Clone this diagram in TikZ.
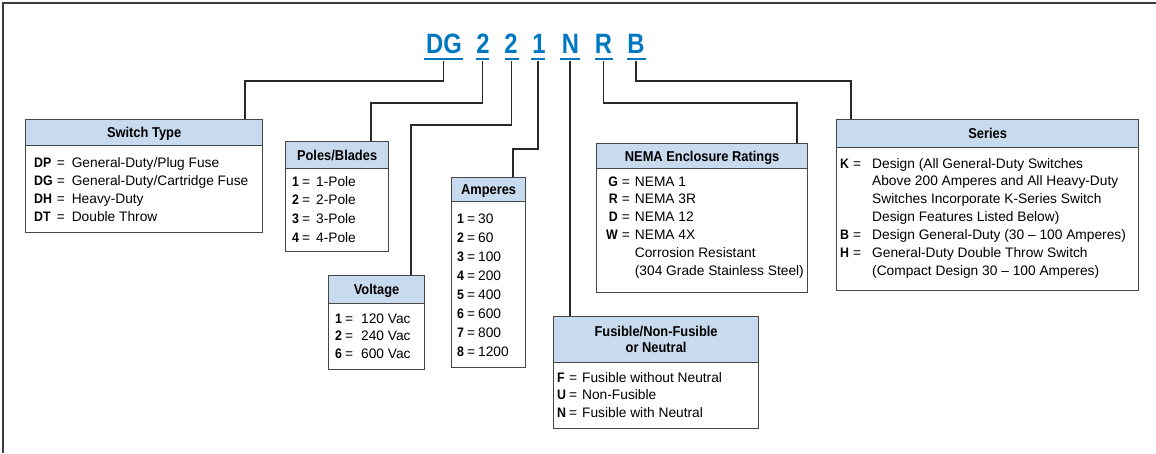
\documentclass[tikz,border=0pt]{standalone}
\usepackage{fontspec}
\setmainfont{Liberation Sans}[BoldFeatures={FakeStretch=0.9}]
\newfontfamily\titlefont{Liberation Sans}[FakeStretch=0.85,BoldFeatures={FakeStretch=0.85}]
\definecolor{titlec}{RGB}{0,120,193}
\definecolor{hdrc}{RGB}{200,218,238}
\definecolor{bordc}{RGB}{70,70,70}
\definecolor{connc}{RGB}{40,40,40}
\definecolor{framec}{RGB}{60,60,60}
\begin{document}
\begin{tikzpicture}[x=1pt,y=-1pt,
  hdr/.style={draw=bordc, fill=hdrc, line width=1.2pt, inner sep=0pt, anchor=north west,
    font=\fontsize{14.3}{16.5}\selectfont\bfseries, text height=10pt, text depth=0pt},
  bodybox/.style={draw=bordc, fill=white, line width=1.2pt, inner sep=0pt, anchor=north west},
  txt/.style={inner sep=0pt, anchor=base west},
  conn/.style={draw=connc, line width=1.1pt},
  uline/.style={fill=titlec, inner sep=0pt, minimum height=2.6pt, draw=none},
  ttl/.style={text=titlec, font=\titlefont\bfseries\fontsize{28}{28}\selectfont, inner sep=0pt, anchor=base}]
\useasboundingbox (0,0) rectangle (1156,453);
% frame
\draw[framec, line width=1.2pt] (3,453) -- (3,3) -- (1156,3);

% title
\node[ttl] (tdg) at (444,53) {DG};
\node[ttl] (t2a) at (483,53) {2};
\node[ttl] (t2b) at (511,53) {2};
\node[ttl] (t1)  at (539,53) {1};
\node[ttl] (tn)  at (570.5,53) {N};
\node[ttl] (tr)  at (603.5,53) {R};
\node[ttl] (tb)  at (636,53) {B};
\node[uline, minimum width=39pt] (udg) at (443.5,59) {};
\node[uline, minimum width=13pt] (u2a) at (482.5,59) {};
\node[uline, minimum width=14pt] (u2b) at (511.5,59) {};
\node[uline, minimum width=14pt] (u1)  at (538,59) {};
\node[uline, minimum width=20pt] (un)  at (570,59) {};
\node[uline, minimum width=18pt] (ur)  at (603.5,59) {};
\node[uline, minimum width=19pt] (ub)  at (636,59) {};

% Switch Type
\node[bodybox, minimum width=237pt, minimum height=113pt] (stb) at (25,119) {};
\node[hdr, minimum width=237pt, minimum height=26pt] (sth) at (25,119) {Switch Type};
\node[txt, font=\fontsize{13.75}{18}\selectfont] (stt) at (34,167) {\begin{tabular}[t]{@{}l@{\hspace{4pt}=\hspace{7pt}}l@{}}
\textbf{DP} & General-Duty/Plug Fuse\\
\textbf{DG} & General-Duty/Cartridge Fuse\\
\textbf{DH} & Heavy-Duty\\
\textbf{DT} & Double Throw
\end{tabular}};

% Poles/Blades
\node[bodybox, minimum width=103pt, minimum height=110pt] (pob) at (285,141) {};
\node[hdr, minimum width=103pt, minimum height=27pt] (poh) at (285,141) {Poles/Blades};
\node[txt, font=\fontsize{13.75}{18.9}\selectfont] (pot) at (292,186) {\begin{tabular}[t]{@{}l@{\hspace{3pt}=\hspace{6pt}}l@{}}
\textbf{1} & 1-Pole\\
\textbf{2} & 2-Pole\\
\textbf{3} & 3-Pole\\
\textbf{4} & 4-Pole
\end{tabular}};

% Voltage
\node[bodybox, minimum width=96pt, minimum height=94pt] (vob) at (328,275) {};
\node[hdr, minimum width=96pt, minimum height=28pt] (voh) at (328,275) {Voltage};
\node[txt, font=\fontsize{13.75}{17.8}\selectfont] (vot) at (335,323) {\begin{tabular}[t]{@{}l@{\hspace{3pt}=\hspace{8pt}}l@{}}
\textbf{1} & 120 Vac\\
\textbf{2} & 240 Vac\\
\textbf{6} & 600 Vac
\end{tabular}};

% Amperes
\node[bodybox, minimum width=74pt, minimum height=190pt] (amb) at (451,177) {};
\node[hdr, minimum width=74pt, minimum height=24pt] (amh) at (451,177) {Amperes};
\node[txt, font=\fontsize{13.75}{19.05}\selectfont] (amt) at (457,223) {\begin{tabular}[t]{@{}l@{\hspace{3pt}=\hspace{3pt}}l@{}}
\textbf{1} & 30\\
\textbf{2} & 60\\
\textbf{3} & 100\\
\textbf{4} & 200\\
\textbf{5} & 400\\
\textbf{6} & 600\\
\textbf{7} & 800\\
\textbf{8} & 1200
\end{tabular}};

% Fusible
\node[bodybox, minimum width=205pt, minimum height=112pt] (fub) at (553,316) {};
\node[hdr, minimum width=205pt, minimum height=46pt, align=center, text height=, text depth=] (fuh) at (553,316) {Fusible/Non-Fusible\\or Neutral};
\node[txt, font=\fontsize{13.75}{17.8}\selectfont] (fut) at (557,382) {\begin{tabular}[t]{@{}l@{\hspace{3pt}=\hspace{5pt}}l@{}}
\textbf{F} & Fusible without Neutral\\
\textbf{U} & Non-Fusible\\
\textbf{N} & Fusible with Neutral
\end{tabular}};

% NEMA
\node[bodybox, minimum width=211pt, minimum height=149pt] (neb) at (596,143) {};
\node[hdr, minimum width=211pt, minimum height=25pt] (neh) at (596,143) {NEMA Enclosure Ratings};
\node[txt, font=\fontsize{13.75}{17.9}\selectfont] (net) at (606,186) {\begin{tabular}[t]{@{}r@{}l@{}l@{}}
\textbf{G} & \hspace{4pt}=\hspace{5pt} & NEMA 1\\
\textbf{R} & \hspace{4pt}=\hspace{5pt} & NEMA 3R\\
\textbf{D} & \hspace{4pt}=\hspace{5pt} & NEMA 12\\
\textbf{W} & \hspace{4pt}=\hspace{5pt} & NEMA 4X\\
 & & Corrosion Resistant\\
 & & (304 Grade Stainless Steel)
\end{tabular}};

% Series
\node[bodybox, minimum width=302pt, minimum height=171pt] (seb) at (836,119) {};
\node[hdr, minimum width=302pt, minimum height=28pt] (seh) at (836,119) {Series};
\node[txt, font=\fontsize{13.75}{17.9}\selectfont] (set) at (840,168) {\begin{tabular}[t]{@{}l@{}l@{}l@{}}
\textbf{K} & \hspace{4pt}=\hspace{11pt} & Design (All General-Duty Switches\\
 & & Above 200 Amperes and All Heavy-Duty\\
 & & Switches Incorporate K-Series Switch\\
 & & Design Features Listed Below)\\
\textbf{B} & \hspace{4pt}=\hspace{11pt} & Design General-Duty (30 -- 100 Amperes)\\
\textbf{H} & \hspace{4pt}=\hspace{11pt} & General-Duty Double Throw Switch\\
 & & (Compact Design 30 -- 100 Amperes)
\end{tabular}};

% connectors
\coordinate (k1) at (245,81);
\coordinate (k2) at (371,103);
\coordinate (k3) at (411,125);
\coordinate (k4) at (513,149);
\coordinate (k6) at (797,103);
\coordinate (k7) at (851,81);
\draw[conn] (udg.south) |- (k1) -- (k1 |- sth.north);
\draw[conn] (u2a.south) |- (k2) -- (k2 |- poh.north);
\draw[conn] (u2b.south) |- (k3) -- (k3 |- voh.north);
\draw[conn] (u1.south) |- (k4) -- (k4 |- amh.north);
\draw[conn] (un.south) -- (un.south |- fuh.north);
\draw[conn] (ur.south) |- (k6) -- (k6 |- neh.north);
\draw[conn] (ub.south) |- (k7) -- (k7 |- seh.north);
\end{tikzpicture}
\end{document}
